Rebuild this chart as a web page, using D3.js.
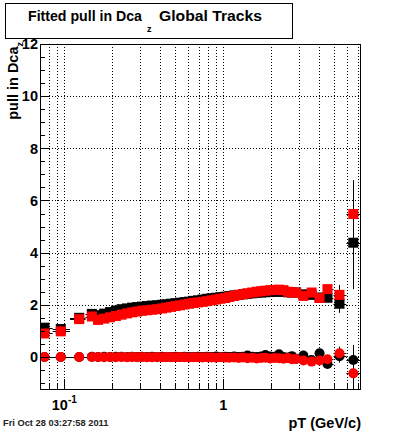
<!DOCTYPE html>
<html lang="en">
<head>
  <meta charset="UTF-8">
  <script src="https://d3js.org/d3.v7.min.js"></script>
  <title>Fitted pull in Dca z Global Tracks</title>
  <style>
    body { margin: 0; background: #fff; }
    text { font-family: "Liberation Sans", Arial, sans-serif; }
  </style>
</head>
<body>
  <div id="chart"></div>
  <script>
    // pT bin centres (GeV/c)
    const pt = [0.075, 0.095, 0.124, 0.149, 0.163, 0.178, 0.194, 0.211, 0.229, 0.248,
      0.267, 0.287, 0.308, 0.331, 0.356, 0.383, 0.412, 0.439, 0.469, 0.501,
      0.534, 0.570, 0.609, 0.650, 0.693, 0.740, 0.790, 0.843, 0.900, 0.960,
      1.03, 1.09, 1.17, 1.25, 1.33, 1.42, 1.52, 1.62, 1.73, 1.84,
      1.97, 2.10, 2.24, 2.39, 2.55, 2.70, 2.87, 3.19, 3.59, 4.03,
      4.52, 5.38, 6.57];

    // fitted width (squares)
    const sigma_black = [1.12, 1.07, 1.50, 1.65, 1.60, 1.66, 1.72, 1.78, 1.83, 1.86,
      1.89, 1.91, 1.93, 1.95, 1.97, 1.98, 2.00, 2.02, 2.04, 2.06,
      2.08, 2.10, 2.12, 2.15, 2.17, 2.20, 2.23, 2.25, 2.27, 2.29,
      2.31, 2.33, 2.36, 2.38, 2.40, 2.42, 2.44, 2.46, 2.47, 2.48,
      2.49, 2.50, 2.50, 2.50, 2.48, 2.47, 2.47, 2.40, 2.38, 2.28,
      2.27, 2.04, 4.38];
    const sigma_red = [0.90, 0.98, 1.45, 1.55, 1.42, 1.47, 1.52, 1.57, 1.62, 1.67,
      1.71, 1.74, 1.77, 1.79, 1.81, 1.83, 1.86, 1.89, 1.92, 1.95,
      1.98, 2.01, 2.04, 2.07, 2.09, 2.11, 2.14, 2.17, 2.20, 2.23,
      2.26, 2.30, 2.34, 2.38, 2.41, 2.44, 2.47, 2.50, 2.52, 2.54,
      2.56, 2.57, 2.58, 2.56, 2.50, 2.47, 2.47, 2.34, 2.47, 2.26,
      2.60, 2.38, 5.48];
    const sigma_black_err = [0.03, 0.03, 0.03, 0.03, 0.03, 0.03, 0.03, 0.03, 0.03, 0.03,
      0.03, 0.03, 0.03, 0.03, 0.03, 0.03, 0.03, 0.03, 0.03, 0.03,
      0.03, 0.03, 0.03, 0.03, 0.03, 0.03, 0.03, 0.03, 0.03, 0.03,
      0.03, 0.03, 0.03, 0.03, 0.03, 0.03, 0.03, 0.03, 0.03, 0.03,
      0.04, 0.04, 0.04, 0.05, 0.05, 0.06, 0.06, 0.08, 0.10, 0.12,
      0.15, 0.35, 1.78];
    const sigma_red_err = [0.03, 0.03, 0.03, 0.03, 0.03, 0.03, 0.03, 0.03, 0.03, 0.03,
      0.03, 0.03, 0.03, 0.03, 0.03, 0.03, 0.03, 0.03, 0.03, 0.03,
      0.03, 0.03, 0.03, 0.03, 0.03, 0.03, 0.03, 0.03, 0.03, 0.03,
      0.03, 0.03, 0.03, 0.03, 0.03, 0.03, 0.03, 0.03, 0.03, 0.03,
      0.04, 0.04, 0.04, 0.05, 0.05, 0.06, 0.06, 0.08, 0.10, 0.12,
      0.15, 0.38, 1.30];

    // fitted mean (circles)
    const mean_black = [0.00, 0.00, 0.00, 0.01, 0.00, 0.01, 0.00, 0.01, 0.01, 0.00,
      0.01, 0.00, 0.01, 0.00, 0.01, 0.00, 0.01, 0.00, 0.00, 0.01,
      0.00, 0.01, 0.00, 0.00, 0.01, 0.00, 0.01, 0.00, 0.02, 0.00,
      0.01, 0.00, 0.02, 0.00, 0.01, 0.05, 0.01, 0.00, 0.02, 0.07,
      0.02, 0.01, 0.10, 0.00, -0.02, 0.03, -0.07, 0.05, -0.12, 0.14,
      -0.27, 0.03, -0.12];
    const mean_red = [0.00, 0.00, 0.00, 0.00, 0.00, -0.01, 0.00, -0.01, 0.00, -0.01,
      0.00, -0.01, 0.00, -0.01, -0.01, 0.00, -0.01, 0.00, -0.01, -0.01,
      0.00, -0.01, -0.02, -0.01, -0.01, -0.02, -0.01, -0.02, -0.03, -0.01,
      -0.02, -0.03, -0.02, -0.04, -0.02, -0.05, -0.03, -0.06, -0.04, -0.03,
      -0.06, -0.04, -0.05, -0.07, -0.04, -0.09, -0.08, -0.14, -0.18, -0.14,
      -0.09, 0.14, -0.63];
    const mean_black_err = [0.02, 0.02, 0.02, 0.02, 0.02, 0.02, 0.02, 0.02, 0.02, 0.02,
      0.02, 0.02, 0.02, 0.02, 0.02, 0.02, 0.02, 0.02, 0.02, 0.02,
      0.02, 0.02, 0.02, 0.02, 0.02, 0.02, 0.02, 0.02, 0.02, 0.02,
      0.02, 0.02, 0.02, 0.02, 0.02, 0.02, 0.02, 0.02, 0.03, 0.03,
      0.03, 0.03, 0.04, 0.04, 0.05, 0.05, 0.06, 0.08, 0.10, 0.12,
      0.15, 0.25, 0.58];
    const mean_red_err = [0.02, 0.02, 0.02, 0.02, 0.02, 0.02, 0.02, 0.02, 0.02, 0.02,
      0.02, 0.02, 0.02, 0.02, 0.02, 0.02, 0.02, 0.02, 0.02, 0.02,
      0.02, 0.02, 0.02, 0.02, 0.02, 0.02, 0.02, 0.02, 0.02, 0.02,
      0.02, 0.02, 0.02, 0.02, 0.02, 0.02, 0.02, 0.02, 0.03, 0.03,
      0.03, 0.03, 0.04, 0.04, 0.05, 0.05, 0.06, 0.08, 0.10, 0.12,
      0.15, 0.25, 0.60];

    const y_major_ticks = [0, 2, 4, 6, 8, 10, 12];

    const svg_width = 400;
    const svg_height = 433;
    const frame_left = 40;
    const frame_right = 360;
    const frame_top = 44;
    const frame_bottom = 389;
    const marker_size = 10;

    const svg = d3.select("#chart")
      .append("svg")
      .attr("width", svg_width)
      .attr("height", svg_height);

    svg.append("rect")
      .attr("width", svg_width)
      .attr("height", svg_height)
      .attr("fill", "#fff");

    const x = d3.scaleLog()
      .domain([0.0703, 7.24])
      .range([frame_left, frame_right]);
    const y = d3.scaleLinear()
      .domain([-1.23, 12])
      .range([frame_bottom, frame_top]);

    svg.append("clipPath")
      .attr("id", "plot_clip")
      .append("rect")
      .attr("x", frame_left)
      .attr("y", frame_top)
      .attr("width", frame_right - frame_left)
      .attr("height", frame_bottom - frame_top);

    // grid
    const x_ticks = x.ticks();
    const grid = svg.append("g")
      .attr("stroke", "#000")
      .attr("stroke-width", 1)
      .attr("stroke-dasharray", "1,2");
    grid.selectAll(".vgrid")
      .data(x_ticks)
      .enter()
      .append("line")
      .attr("x1", d => Math.round(x(d)) + 0.5)
      .attr("x2", d => Math.round(x(d)) + 0.5)
      .attr("y1", frame_top)
      .attr("y2", frame_bottom);
    grid.selectAll(".hgrid")
      .data(y_major_ticks.filter(d => d < 12))
      .enter()
      .append("line")
      .attr("x1", frame_left)
      .attr("x2", frame_right)
      .attr("y1", d => Math.round(y(d)) + 0.5)
      .attr("y2", d => Math.round(y(d)) + 0.5);

    // data
    const plot = svg.append("g").attr("clip-path", "url(#plot_clip)");

    // horizontal bar ends: half way to the neighbouring bins (log scale)
    const px = pt.map(d => x(d));
    const x_lo = px.map((d, i) => i > 0 ? (d + px[i - 1]) / 2 : d - (px[1] - d) / 2);
    const x_hi = px.map((d, i) => i < px.length - 1 ? (d + px[i + 1]) / 2 : d + (d - px[i - 1]) / 2);

    function draw_series(values, errors, color, shape) {
      const g = plot.append("g");
      g.selectAll(".xerr")
        .data(values)
        .enter()
        .append("line")
        .attr("stroke", "#000")
        .attr("x1", (d, i) => x_lo[i])
        .attr("x2", (d, i) => x_hi[i])
        .attr("y1", d => Math.round(y(d)) + 0.5)
        .attr("y2", d => Math.round(y(d)) + 0.5);
      g.selectAll(".yerr")
        .data(values)
        .enter()
        .append("line")
        .attr("stroke", "#000")
        .attr("x1", (d, i) => Math.round(px[i]) + 0.5)
        .attr("x2", (d, i) => Math.round(px[i]) + 0.5)
        .attr("y1", (d, i) => y(d - errors[i]))
        .attr("y2", (d, i) => y(d + errors[i]));
      if (shape === "square") {
        g.selectAll(".marker")
          .data(values)
          .enter()
          .append("rect")
          .attr("fill", color)
          .attr("x", (d, i) => px[i] - marker_size / 2)
          .attr("y", d => y(d) - marker_size / 2)
          .attr("width", marker_size)
          .attr("height", marker_size);
      } else {
        g.selectAll(".marker")
          .data(values)
          .enter()
          .append("circle")
          .attr("fill", color)
          .attr("cx", (d, i) => px[i])
          .attr("cy", d => y(d))
          .attr("r", marker_size / 2);
      }
    }

    draw_series(sigma_black, sigma_black_err, "#000", "square");
    draw_series(mean_black, mean_black_err, "#000", "circle");
    draw_series(sigma_red, sigma_red_err, "#ff0000", "square");
    draw_series(mean_red, mean_red_err, "#ff0000", "circle");

    // frame
    svg.append("rect")
      .attr("x", frame_left + 0.5)
      .attr("y", frame_top + 0.5)
      .attr("width", frame_right - frame_left)
      .attr("height", frame_bottom - frame_top)
      .attr("fill", "none")
      .attr("stroke", "#000");

    // y axis ticks (inside the frame)
    const y_minor = d3.range(-1, 12.01, 0.5);
    svg.selectAll(".ytick")
      .data(y_minor)
      .enter()
      .append("line")
      .attr("stroke", "#000")
      .attr("x1", frame_left)
      .attr("x2", d => frame_left + (d % 2 === 0 ? 10 : 5))
      .attr("y1", d => Math.round(y(d)) + 0.5)
      .attr("y2", d => Math.round(y(d)) + 0.5);

    svg.selectAll(".ylabel")
      .data(y_major_ticks)
      .enter()
      .append("text")
      .attr("x", 38)
      .attr("y", d => y(d))
      .attr("dy", "0.36em")
      .attr("text-anchor", "end")
      .attr("font-size", 14.5)
      .attr("font-weight", "bold")
      .text(d => d);

    // x axis ticks
    svg.selectAll(".xtick")
      .data(x_ticks)
      .enter()
      .append("line")
      .attr("stroke", "#000")
      .attr("x1", d => Math.round(x(d)) + 0.5)
      .attr("x2", d => Math.round(x(d)) + 0.5)
      .attr("y1", frame_bottom)
      .attr("y2", d => frame_bottom - (Number.isInteger(Math.round(Math.log10(d) * 1e6) / 1e6) ? 10 : 5));

    const lab_10 = svg.append("text")
      .attr("x", x(0.1))
      .attr("y", 410)
      .attr("text-anchor", "middle")
      .attr("font-size", 14.5)
      .attr("font-weight", "bold");
    lab_10.append("tspan").text("10");
    lab_10.append("tspan").attr("dy", -7).attr("font-size", 10).text("-1");

    svg.append("text")
      .attr("x", x(1))
      .attr("y", 410)
      .attr("text-anchor", "middle")
      .attr("font-size", 14.5)
      .attr("font-weight", "bold")
      .text("1");

    // axis titles
    svg.append("text")
      .attr("x", 361)
      .attr("y", 428)
      .attr("text-anchor", "end")
      .attr("font-size", 14.5)
      .attr("font-weight", "bold")
      .text("pT (GeV/c)");

    const ytitle = svg.append("text")
      .attr("transform", "translate(18,42) rotate(-90)")
      .attr("text-anchor", "end")
      .attr("font-size", 14.5)
      .attr("font-weight", "bold");
    ytitle.append("tspan").text("pull in Dca");
    ytitle.append("tspan").attr("dy", 5).attr("font-size", 9).text("z");

    // title box
    svg.append("rect")
      .attr("x", 5.5)
      .attr("y", 3.5)
      .attr("width", 287)
      .attr("height", 35)
      .attr("fill", "#fff")
      .attr("stroke", "#000");

    const title_g = svg.append("g")
      .attr("font-weight", "bold");
    title_g.append("text")
      .attr("x", 28)
      .attr("y", 21)
      .attr("font-size", 15)
      .attr("textLength", 114)
      .attr("lengthAdjust", "spacingAndGlyphs")
      .text("Fitted pull in Dca");
    title_g.append("text")
      .attr("x", 147)
      .attr("y", 32)
      .attr("font-size", 9)
      .text("z");
    title_g.append("text")
      .attr("x", 159)
      .attr("y", 21)
      .attr("font-size", 15)
      .attr("textLength", 103)
      .attr("lengthAdjust", "spacingAndGlyphs")
      .text("Global Tracks");

    svg.append("text")
      .attr("x", 3)
      .attr("y", 426)
      .attr("font-size", 9.3)
      .attr("font-weight", "bold")
      .attr("fill", "#222")
      .text("Fri Oct 28 03:27:58 2011");
  </script>
</body>
</html>
